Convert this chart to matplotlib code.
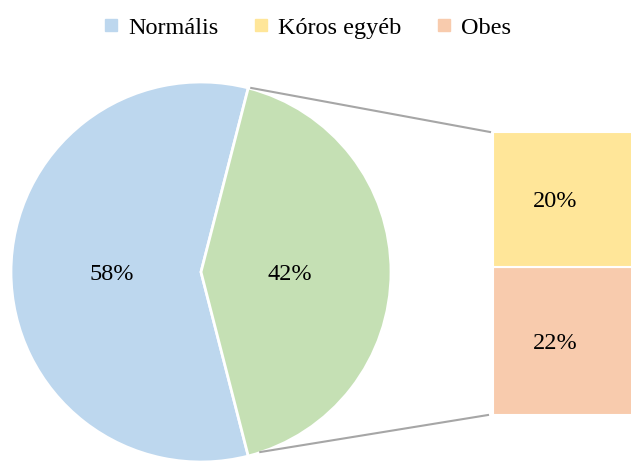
import numpy as np
import matplotlib
matplotlib.use("Agg")
import matplotlib.pyplot as plt
from matplotlib.lines import Line2D

plt.rcParams['font.family'] = ['Liberation Serif', 'DejaVu Serif']

# --------- données ---------
pie_labels = ["Normális", "Kóros egyéb + Obes"]
pie_values = [58, 42]
bar_labels = ["Obes", "Kóros egyéb"]   # de bas en haut
bar_values = [22, 20]
legend_labels = ["Normális", "Kóros egyéb", "Obes"]

c_norm = "#BDD7EE"
c_green = "#C5E0B4"
c_koros = "#FFE699"
c_obes = "#F8CBAD"

# --------- figure (coordonnées en pixels) ---------
fig = plt.figure(figsize=(6.31, 4.63), dpi=100)
ax = fig.add_axes([0, 0, 1, 1])

cx, cy, r = 201, 191, 190
start = pie_values[1] / sum(pie_values) * 180
wedges, texts, autotexts = ax.pie(
    pie_values, colors=[c_norm, c_green], startangle=start,
    center=(cx, cy), radius=r, autopct='%.0f%%', pctdistance=0.47,
    wedgeprops=dict(edgecolor="white", linewidth=2),
    textprops=dict(fontsize=17.5, color="black", va="center_baseline"))

# barre empilée (pie of bar)
bx, bw, b0 = 493, 145, 48
scale = 283 / sum(bar_values)
bottom = b0
for v, c in zip(bar_values, [c_obes, c_koros]):
    h = v * scale
    ax.bar(bx, h, width=bw, bottom=bottom, align='edge', color=c,
           edgecolor="white", linewidth=1.5)
    ax.text(bx + 62, bottom + h / 2, f"{v}%", ha="center",
            va="center_baseline", fontsize=17.5)
    bottom += h

# lignes de liaison
th = np.deg2rad(start)
top_pt = (cx + r * np.cos(th) + 3, cy + r * np.sin(th))
bot_pt = (cx + r * np.cos(-th) + 12, cy + r * np.sin(-th) + 4)
ax.plot([top_pt[0], bx - 3], [top_pt[1], bottom], color="#A6A6A6", lw=1.5)
ax.plot([bot_pt[0], bx - 5], [bot_pt[1], b0], color="#A6A6A6", lw=1.5)

ax.set_xlim(0, 631)
ax.set_ylim(0, 463)
ax.set_aspect('equal')
ax.axis('off')

# légende
handles = [Line2D([], [], marker='s', ls='', markersize=8.5, color=c)
           for c in [c_norm, c_koros, c_obes]]
fig.legend(handles, legend_labels, loc='center', bbox_to_anchor=(0.483, 0.94),
           ncol=3, frameon=False, fontsize=17.5, handletextpad=0.2,
           columnspacing=1.25, handlelength=1.0)

plt.savefig("out.png", dpi=100)
plt.close()
